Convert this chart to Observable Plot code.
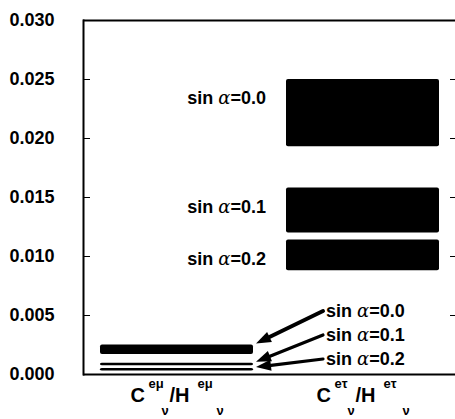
<!DOCTYPE html>
<html><head><meta charset="utf-8">
<script src="https://cdn.jsdelivr.net/npm/d3@7"></script>
<script src="https://cdn.jsdelivr.net/npm/@observablehq/plot@0.6"></script>
<style>
body{margin:0;background:#fff;overflow:hidden}
svg{display:block}
</style>
</head><body><div id="chart"></div>
<script>
// ---- data ----
const categories = ["Cemu", "Cetau"];
const sinAlpha = ["0.0", "0.1", "0.2"];
const emuLow  = [0.0017, 0.00075, 0.0003];
const emuHigh = [0.0025, 0.00095, 0.0005];
const etauLow  = [0.0193, 0.0120, 0.0088];
const etauHigh = [0.0250, 0.0158, 0.0114];
const yTicks = [0, 0.005, 0.010, 0.015, 0.020, 0.025, 0.030];
const catSup = ["e\u03BC", "e\u03C4"];

const rows = [];
sinAlpha.forEach((s, i) => {
  rows.push({cat: categories[0], s, lo: emuLow[i], hi: emuHigh[i]});
  rows.push({cat: categories[1], s, lo: etauLow[i], hi: etauHigh[i]});
});

const FONT = "'Liberation Sans', Arial, Helvetica, sans-serif";

const plot = Plot.plot({
  width: 455,
  height: 419,
  marginLeft: 83,
  marginRight: 0,
  marginTop: 20,
  marginBottom: 45,
  style: {fontFamily: FONT, fontSize: "18px", fontWeight: "bold", color: "#000", background: "#fff"},
  x: {type: "band", domain: categories, paddingInner: 0.18, paddingOuter: 0.09, axis: null},
  y: {domain: [0, 0.03], axis: null},
  marks: [
    Plot.barY(rows, {x: "cat", y1: "lo", y2: "hi", fill: "#000", rx: 2}),
    Plot.ruleY([0, 0.03], {stroke: "#000", strokeWidth: 2}),
    Plot.frame({anchor: "left", stroke: "#000", strokeWidth: 2}),
    Plot.axisY({anchor: "left", ticks: yTicks, tickSize: 0, tickPadding: 29, tickFormat: d3.format(".3f"), label: null}),
    Plot.axisY({anchor: "left", ticks: yTicks, tickSize: -7, tickFormat: () => "", label: null}),
    Plot.axisY({anchor: "right", ticks: yTicks, tickSize: -6, tickFormat: () => "", label: null})
  ]
});
document.getElementById("chart").appendChild(plot);

// ---- annotations using the plot's scales ----
const xs = plot.scale("x"), ys = plot.scale("y");
const bw = xs.bandwidth;
const svg = d3.select(plot);
const g = svg.append("g").attr("font-family", FONT).attr("font-weight", "bold").attr("fill", "#000");

function sinLabel(sel, s) {
  sel.append("tspan").text("sin ");
  sel.append("tspan").attr("font-weight", "normal").attr("font-family", "'DejaVu Serif', serif").attr("font-style", "italic").text("\u03B1");
  sel.append("tspan").text("=" + s);
}

// labels left of the e-tau bands
const b2 = xs.apply(categories[1]);
sinAlpha.forEach((s, i) => {
  const t = g.append("text")
    .attr("x", b2 - 20)
    .attr("y", ys.apply(etauHigh[i]) + 19)
    .attr("dy", "0.35em")
    .attr("text-anchor", "end")
    .attr("font-size", 18);
  sinLabel(t, s);
});

// labels + arrows for e-mu bands
const b1end = xs.apply(categories[0]) + bw;
const y0 = ys.apply(0);
const labelOffsets = [63, 39, 15];
sinAlpha.forEach((s, i) => {
  const ly = y0 - labelOffsets[i];
  const t = g.append("text")
    .attr("x", b2 + 40)
    .attr("y", ly)
    .attr("dy", "0.35em")
    .attr("text-anchor", "start")
    .attr("font-size", 18);
  sinLabel(t, s);
  // arrow
  const sx = b2 + 37, sy = ly;
  const tx = b1end + 3, ty = ys.apply(emuHigh[i]) - 1;
  const ang = Math.atan2(ty - sy, tx - sx);
  const hl = 15, hw = 5.5;
  const bx = tx - hl * Math.cos(ang), by = ty - hl * Math.sin(ang);
  const px = -Math.sin(ang), py = Math.cos(ang);
  g.append("line").attr("x1", sx).attr("y1", sy).attr("x2", bx).attr("y2", by)
    .attr("stroke", "#000").attr("stroke-width", i === 0 ? 4 : 3.2).attr("stroke-linecap", "round");
  g.append("path")
    .attr("d", `M${tx},${ty}L${bx + px * hw},${by + py * hw}L${bx - px * hw},${by - py * hw}Z`)
    .attr("fill", "#000");
});

// category labels with super/subscripts
const pieces = [
  {t: "C", dx: -46, y: 402, fs: 20},
  {t: null, dx: -28, y: 388, fs: 13},
  {t: "\u03BD", dx: -15, y: 415, fs: 13},
  {t: "/H", dx: -7, y: 402, fs: 20},
  {t: null, dx: 21, y: 388, fs: 13},
  {t: "\u03BD", dx: 40, y: 415, fs: 13}
];
categories.forEach((c, i) => {
  const cx = xs.apply(c) + bw / 2;
  pieces.forEach(p => {
    g.append("text").attr("x", cx + p.dx).attr("y", p.y).attr("font-size", p.fs)
      .attr("text-anchor", "start").text(p.t === null ? catSup[i] : p.t);
  });
});
</script>
</body></html>
